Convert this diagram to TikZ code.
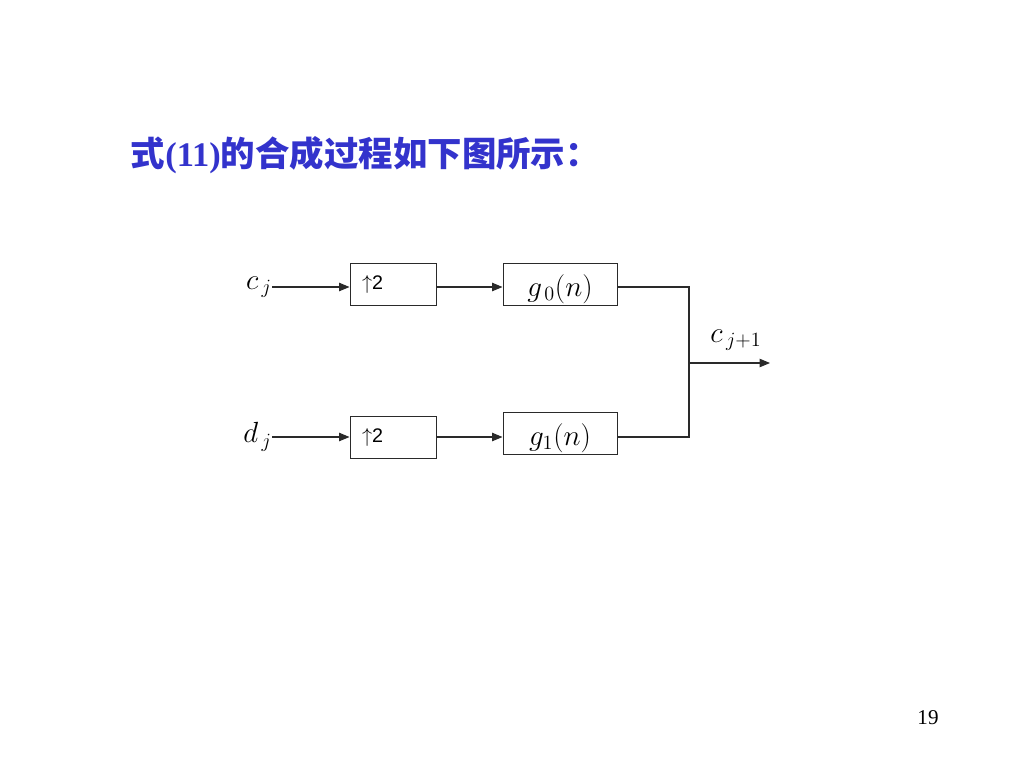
\documentclass[tikz,border=0pt]{standalone}
\usepackage{fontspec}
\setmainfont{Liberation Serif}
\newfontfamily\cjk{Noto Sans CJK SC}
\newfontfamily\arial{Liberation Sans}
\usetikzlibrary{arrows.meta,positioning,calc}
\definecolor{titleblue}{HTML}{3333CC}
\definecolor{linegray}{HTML}{2A2A2A}

\begin{document}
\begin{tikzpicture}[x=0.25mm,y=-0.25mm,>={Triangle[length=2.6mm,width=2.1mm]},
    link/.style={linegray,line width=0.75pt},
    upbox/.style={draw=linegray,line width=0.7pt,minimum width=21.5mm,minimum height=10.5mm,
      text width=15.5mm,inner xsep=3mm,align=left,font=\arial\fontsize{14}{16}\selectfont},
    filtbox/.style={draw=linegray,line width=0.7pt,minimum width=28.5mm,minimum height=10.5mm,
      inner sep=0pt,text height=6mm,text depth=0pt,font=\fontsize{22}{24}\selectfont},
    sig/.style={font=\fontsize{21}{23}\selectfont,inner sep=0pt}]
    \useasboundingbox (0,0) rectangle (1024,768);

    % title line and page number
    \node[anchor=west,text=titleblue,font=\fontsize{24.5}{27}\selectfont] (title) at (126,155)
      {{\cjk\bfseries 式}\textbf{(11)}{\cjk\bfseries 的合成过程如下图所示：}};
    \node[font=\fontsize{15}{16}\selectfont] (page) at (928,718) {19};

    % upsampling and synthesis filters
    \node[upbox] (up0) at (393,284) {$\uparrow$2};
    \node[filtbox] (g0) at (560,284) {$g_{\,0}(n)$};
    \node[upbox] (up1) at (393,437.5) {$\uparrow$2};
    \node[filtbox] (g1) at (560,433) {$g_{1}(n)$};

    \node[sig,anchor=east] (cj) at (272,287) {$c_{\,j}$};
    \node[sig,anchor=east] (dj) at (272,437) {$d_{\,j}$};
    \coordinate (join) at (689,363);
    \coordinate (out) at (770,363);
    \node[sig] (cnext) at (736,340) {$c_{\,j+1}$};

    \draw[link,->] (cj.east) -- (cj.east -| up0.west);
    \draw[link,->] (up0.east |- cj.east) -- (g0.west |- cj.east);
    \draw[link] (g0.east |- cj.east) -| (join);
    \draw[link,->] (dj.east) -- (dj.east -| up1.west);
    \draw[link,->] (up1.east |- dj.east) -- (g1.west |- dj.east);
    \draw[link] (g1.east |- dj.east) -| (join);
    \draw[link,->] (join) -- (out);
\end{tikzpicture}
\end{document}
